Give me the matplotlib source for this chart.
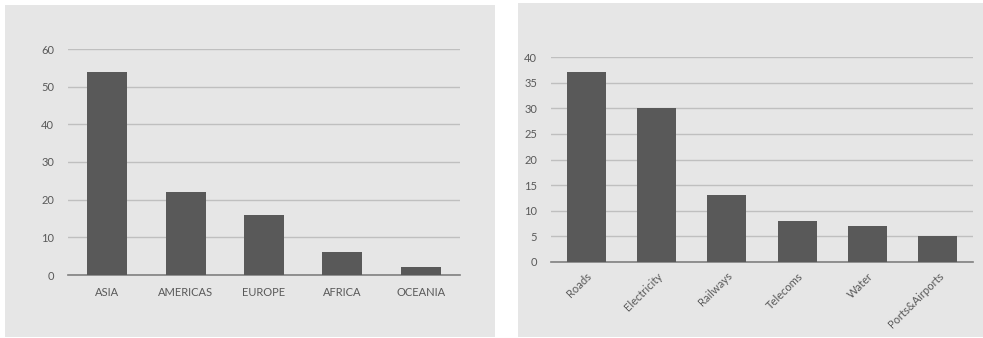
import matplotlib
matplotlib.use('Agg')
import matplotlib.pyplot as plt
from matplotlib.patches import Rectangle

# 左图：地区分布
regions = ['ASIA', 'AMERICAS', 'EUROPE', 'AFRICA', 'OCEANIA']
region_vals = [54, 22, 16, 6, 2]

# 右图：行业分布
sectors = ['Roads', 'Electricity', 'Railways', 'Telecoms', 'Water', 'Ports&Airports']
sector_vals = [37, 30, 13, 8, 7, 5]

W, H = 983, 338
PANEL = '#e6e6e6'
BAR = '#595959'
GRID = '#bfbfbf'
TXT = '#595959'

plt.rcParams['font.family'] = ['Lato', 'DejaVu Sans']

fig = plt.figure(figsize=(W / 100, H / 100), dpi=100)
fig.patch.set_facecolor('white')


def px_rect(x0, y0, x1, y1):
    """像素坐标(左上原点) -> figure 坐标 [left, bottom, width, height]"""
    return [x0 / W, 1 - y1 / H, (x1 - x0) / W, (y1 - y0) / H]


# 两块灰色背景，放在 axes 下面
for x0, y0, x1, y1 in [(5, 5, 495, 337), (518, 3, 983, 337)]:
    l, b, w, h = px_rect(x0, y0, x1, y1)
    fig.patches.append(Rectangle((l, b), w, h, transform=fig.transFigure,
                                 facecolor=PANEL, edgecolor='none', zorder=-10))


def style_axes(ax, ymax, step):
    ax.set_facecolor('none')
    ax.set_ylim(0, ymax)
    ax.set_yticks(range(0, ymax + 1, step))
    ax.yaxis.grid(True, color=GRID, linewidth=1)
    ax.set_axisbelow(True)
    for s in ['top', 'right', 'left']:
        ax.spines[s].set_visible(False)
    ax.spines['bottom'].set_color('#808080')
    ax.spines['bottom'].set_linewidth(1.2)
    ax.tick_params(axis='both', length=0, colors=TXT, labelsize=8)
    ax.tick_params(axis='y', pad=10)


ax1 = fig.add_axes(px_rect(68, 49, 460, 275))
ax1.bar(range(len(regions)), region_vals, width=0.51, color=BAR, zorder=3)
ax1.set_xlim(-0.5, len(regions) - 0.5)
ax1.set_xticks(range(len(regions)))
ax1.set_xticklabels(regions)
style_axes(ax1, 60, 10)
ax1.tick_params(axis='x', pad=9)

ax2 = fig.add_axes(px_rect(551, 57, 973, 262))
ax2.bar(range(len(sectors)), sector_vals, width=0.55, color=BAR, zorder=3)
ax2.set_xlim(-0.5, len(sectors) - 0.5)
ax2.set_xticks(range(len(sectors)))
ax2.set_xticklabels(sectors, rotation=45, ha='right', rotation_mode='anchor')
style_axes(ax2, 40, 5)
ax2.tick_params(axis='x', pad=6)

plt.savefig('out.png', dpi=100)
plt.close()
